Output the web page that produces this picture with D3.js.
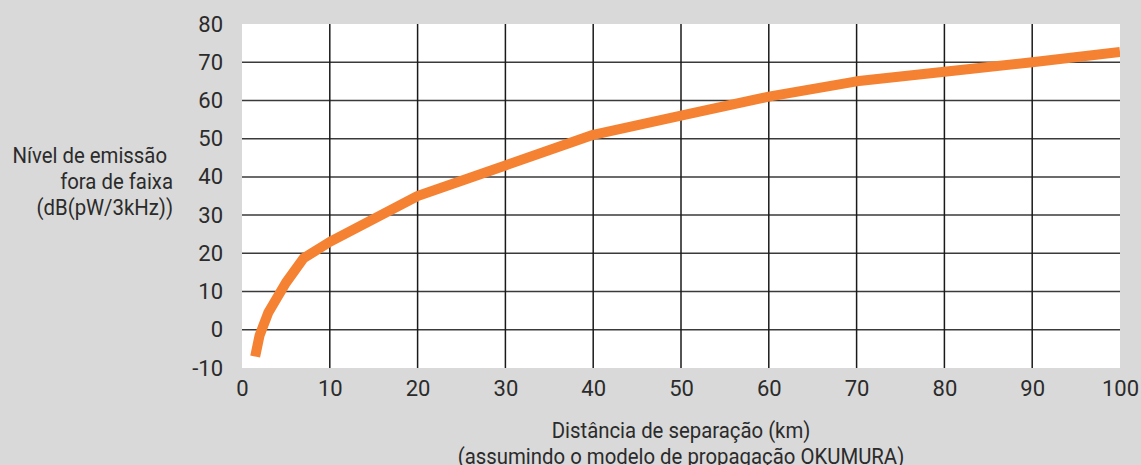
<!DOCTYPE html>
<html><head><meta charset="utf-8">
<script src="https://cdn.jsdelivr.net/npm/d3@7"></script>
<style>html,body{margin:0;padding:0;background:#d9d9d9;}svg{display:block;}</style>
</head><body>
<svg id="c" width="1141" height="465"></svg>
<script>
const distances = [1.5, 2, 3, 5, 7, 10, 20, 30, 40, 50, 60, 70, 80, 90, 100];
const levels = [-7, -1.5, 4.5, 12.3, 18.7, 23, 35, 43, 51, 56, 61, 65, 67.5, 70, 72.7];
const xTicks = [0, 10, 20, 30, 40, 50, 60, 70, 80, 90, 100];
const yTicks = [-10, 0, 10, 20, 30, 40, 50, 60, 70, 80];
const yLabelLines = ["Nível de emissão", "fora de faixa", "(dB(pW/3kHz))"];
const xLabelLines = ["Distância de separação (km)", "(assumindo o modelo de propagação OKUMURA)"];

const svg = d3.select("#c");
const font = "Roboto, sans-serif";
const txt = "#2b2b2b";
const L = 242, R = 1120, T = 24, B = 368;
const x = d3.scaleLinear().domain([0, 100]).range([L, R]);
const y = d3.scaleLinear().domain([-10, 80]).range([B, T]);

svg.append("rect").attr("x", L).attr("y", T).attr("width", R - L).attr("height", B - T).attr("fill", "#fff");

svg.append("clipPath").attr("id", "pc").append("rect")
  .attr("x", L).attr("y", T).attr("width", R - L).attr("height", B - T);

svg.append("g").selectAll("line").data(yTicks.filter(d => d > -10 && d < 80)).join("line")
  .attr("x1", L).attr("x2", R).attr("y1", d => y(d)).attr("y2", d => y(d))
  .attr("stroke", "#3a3a3a").attr("stroke-width", 1.5);
svg.append("g").selectAll("line").data(xTicks.filter(d => d > 0 && d < 100)).join("line")
  .attr("y1", T).attr("y2", B).attr("x1", d => x(d)).attr("x2", d => x(d))
  .attr("stroke", "#1a1a1a").attr("stroke-width", 1.5);

const line = d3.line().x(d => x(d[0])).y(d => y(d[1]));
svg.append("path").datum(distances.map((d, i) => [d, levels[i]]))
  .attr("d", line).attr("fill", "none").attr("stroke", "#f58232")
  .attr("stroke-width", 10).attr("stroke-linejoin", "round").attr("clip-path", "url(#pc)");

// axes
const fmt = d => String(d); // plain hyphen-minus as in reference
const yAxis = svg.append("g").attr("transform", `translate(${L},0)`)
  .call(d3.axisLeft(y).tickValues(yTicks).tickFormat(fmt).tickSize(0).tickPadding(19));
const xAxis = svg.append("g").attr("transform", `translate(0,${B})`)
  .call(d3.axisBottom(x).tickValues(xTicks).tickFormat(fmt).tickSize(0).tickPadding(12));
[yAxis, xAxis].forEach(a => {
  a.select(".domain").remove();
  a.selectAll("text").attr("font-family", font).attr("font-size", 22).attr("fill", txt);
});

const sx = 0.885;
svg.append("g").selectAll("text").data(yLabelLines).join("text")
  .attr("transform", (d, i) => `translate(${i === 0 ? 167 : 173},${163 + i * 26}) scale(${sx},1)`)
  .attr("text-anchor", "end")
  .attr("font-family", font).attr("font-size", 23).attr("fill", txt).text(d => d);

svg.append("g").selectAll("text").data(xLabelLines).join("text")
  .attr("transform", (d, i) => `translate(681,${438 + i * 26}) scale(${sx},1)`)
  .attr("text-anchor", "middle")
  .attr("font-family", font).attr("font-size", 23).attr("fill", txt).text(d => d);
</script>
</body></html>
